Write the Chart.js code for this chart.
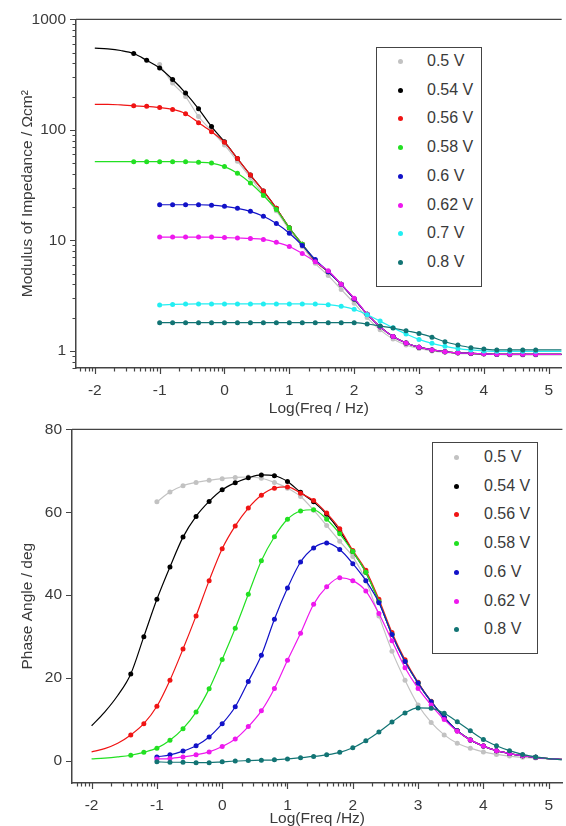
<!DOCTYPE html>
<html>
<head>
<meta charset="utf-8">
<script src="https://cdn.jsdelivr.net/npm/chart.js@4.4.0/dist/chart.umd.min.js"></script>
<style>
    body { margin: 0; background: #fff; width: 566px; height: 826px; overflow: hidden; position: relative;
           font-family: "Liberation Sans", Arial, sans-serif; }
    .quadro { position: absolute; left: 0; width: 566px; }
    .legenda { position: absolute; box-sizing: border-box; border: 1.5px solid #444; background: #fff; z-index: 5; }
    .item { position: absolute; left: 0; height: 18px; line-height: 18px; font-size: 16px; color: #3a3a3a; white-space: nowrap; }
    .ponto { position: absolute; top: 7px; width: 5px; height: 5px; border-radius: 50%; }
</style>
</head>
<body>
<div class="quadro" style="top:0;height:420px"><canvas id="graficoModulo"></canvas></div>
<div class="quadro" style="top:410px;height:416px"><canvas id="graficoFase"></canvas></div>
<div id="legendaModulo" class="legenda" style="left:376px;top:47px;width:106px;height:240px"></div>
<div id="legendaFase" class="legenda" style="left:432px;top:442px;width:106px;height:212px"></div>

<script>
// Frequências (log10 f / Hz) da grade
const logFreq = [-2.0, -1.8, -1.6, -1.4, -1.2, -1.0, -0.8, -0.6, -0.4, -0.2, 0.0, 0.2, 0.4, 0.6, 0.8, 1.0, 1.2, 1.4,
    1.6, 1.8, 2.0, 2.2, 2.4, 2.6, 2.8, 3.0, 3.2, 3.4, 3.6, 3.8, 4.0, 4.2, 4.4, 4.6, 4.8, 5.0, 5.2];
// faixa onde há pontos medidos (fora dela só a curva ajustada)
const primeiraMedida = -1.45;
const ultimaMedida = 4.85;

const ticksX = [-2, -1, 0, 1, 2, 3, 4, 5];
const ticksModulo = [1, 10, 100, 1000];
const ticksFase = [0, 20, 40, 60, 80];

const rotulos = ['0.5 V', '0.54 V', '0.56 V', '0.58 V', '0.6 V', '0.62 V', '0.7 V', '0.8 V'];
const cores = ['#c2c2c2', '#000000', '#f01414', '#22e022', '#1212c8', '#ee18ee', '#22eef2', '#127474'];

// Módulo da impedância / Ωcm²
const mod050 = [null, null, null, null, null, 390, 265, 200, 132, 98, 73, 52, 37, 26, 18.5, 12.5, 8.8, 6.2,
    4.8, 3.6, 2.7, 2.0, 1.55, 1.28, 1.13, 1.05, 1.0, 0.97, 0.95, 0.94, 0.93, 0.93, 0.92, 0.92, 0.92, 0.92, 0.92];
const mod054 = [548, 540, 522, 490, 425, 362, 285, 215, 155, 107, 78, 55, 39, 28, 19.5, 13, 9.2, 6.5,
    5.2, 4.0, 2.95, 2.15, 1.65, 1.35, 1.18, 1.08, 1.02, 0.98, 0.96, 0.95, 0.94, 0.93, 0.93, 0.93, 0.93, 0.93, 0.93];
const mod056 = [170, 170, 168, 165, 163, 159, 153, 140, 116, 96, 77, 55, 39, 28, 19.5, 13, 9.2, 6.5,
    5.2, 4.0, 2.95, 2.15, 1.65, 1.35, 1.18, 1.08, 1.02, 0.98, 0.96, 0.95, 0.94, 0.93, 0.93, 0.93, 0.93, 0.93, 0.93];
const mod058 = [51.5, 51.5, 51.5, 51.5, 51.5, 51.5, 51.5, 51.4, 51, 50, 46.5, 40.5, 33, 25.5, 19, 13, 9.2, 6.6,
    5.2, 4.0, 2.95, 2.15, 1.65, 1.35, 1.18, 1.08, 1.02, 0.98, 0.96, 0.95, 0.94, 0.93, 0.93, 0.93, 0.93, 0.93, 0.93];
const mod060 = [null, null, null, null, null, 21, 21, 21, 21, 20.8, 20.3, 19.5, 18.3, 16.5, 14.2, 11.6, 9.0, 6.7,
    5.2, 4.0, 2.95, 2.15, 1.65, 1.35, 1.18, 1.08, 1.02, 0.98, 0.96, 0.95, 0.94, 0.93, 0.93, 0.93, 0.93, 0.93, 0.93];
const mod062 = [null, null, null, null, null, 10.7, 10.7, 10.7, 10.7, 10.7, 10.6, 10.5, 10.4, 10.2, 9.6, 8.8, 7.6, 6.4,
    5.3, 4.0, 3.0, 2.15, 1.65, 1.35, 1.18, 1.08, 1.02, 0.98, 0.96, 0.95, 0.94, 0.93, 0.93, 0.93, 0.93, 0.93, 0.93];
const mod070 = [null, null, null, null, null, 2.6, 2.63, 2.65, 2.66, 2.66, 2.66, 2.66, 2.66, 2.66, 2.66, 2.66, 2.66, 2.65,
    2.62, 2.53, 2.38, 2.12, 1.86, 1.62, 1.42, 1.27, 1.17, 1.1, 1.05, 1.02, 1.0, 0.99, 0.99, 0.99, 0.99, 0.99, 0.99];
const mod080 = [null, null, null, null, null, 1.8, 1.8, 1.8, 1.8, 1.8, 1.8, 1.8, 1.8, 1.8, 1.8, 1.8, 1.8, 1.8,
    1.8, 1.8, 1.8, 1.75, 1.68, 1.61, 1.52, 1.44, 1.33, 1.21, 1.13, 1.07, 1.04, 1.02, 1.02, 1.02, 1.02, 1.02, 1.02];

// Ângulo de fase / graus
const fase050 = [null, null, null, null, null, 62.5, 64.9, 66.4, 67.2, 67.7, 68.1, 68.4, 68.5, 68.2, 67.2, 65.8, 63.8, 60.5,
    56.8, 53, 49.3, 43.5, 35, 26.5, 19.5, 13.5, 9.3, 6.3, 4.3, 3.1, 2.2, 1.6, 1.2, 0.9, 0.7, 0.5, 0.35];
const fase054 = [8.5, 11.8, 15.8, 21, 30, 39, 46.8, 54, 59, 62.6, 65.4, 67.1, 68.3, 69, 68.8, 67.4, 64.8, 62.5,
    59.5, 55.5, 50.5, 45.5, 38.5, 30.5, 24, 18.8, 14.3, 10.5, 7.3, 5.1, 3.6, 2.5, 1.8, 1.3, 0.9, 0.6, 0.4];
const fase056 = [2.2, 3.0, 4.3, 6.3, 9.0, 13.2, 19.5, 27, 35, 43.5, 51.2, 56.7, 61, 64.1, 65.8, 66.1, 64.6, 62.8,
    59.8, 56, 50.8, 46, 39, 31, 24.4, 19, 14.4, 10.5, 7.3, 5.1, 3.6, 2.5, 1.8, 1.3, 0.9, 0.6, 0.4];
const fase058 = [0.5, 0.7, 1.0, 1.4, 2.1, 3.1, 5.0, 7.8, 11.8, 17.4, 24.5, 32, 40.2, 48.3, 54.1, 58.3, 60.3, 60.6,
    58.3, 54.8, 50.5, 45.5, 38.5, 30.5, 24, 18.8, 14.3, 10.5, 7.3, 5.1, 3.6, 2.5, 1.8, 1.3, 0.9, 0.6, 0.4];
const fase060 = [null, null, null, null, null, 1.0, 1.5, 2.4, 3.7, 5.8, 9.0, 13.1, 19.2, 25.5, 34.2, 41.7, 48, 51.4,
    52.6, 51, 47.6, 43.5, 38.2, 30.5, 24, 18.8, 14.3, 10.5, 7.3, 5.1, 3.6, 2.5, 1.8, 1.3, 0.9, 0.6, 0.4];
const fase062 = [null, null, null, null, null, 0.5, 0.6, 1.0, 1.5, 2.2, 3.5, 5.3, 8.3, 12.1, 17.5, 24.3, 30.8, 37.8,
    42, 44.2, 43.5, 41, 35.6, 29, 22.5, 17.5, 13.5, 10, 7.2, 5.1, 3.6, 2.5, 1.8, 1.3, 0.9, 0.6, 0.4];
const fase080 = [null, null, null, null, null, -0.2, -0.3, -0.3, -0.4, -0.4, -0.2, 0, 0.1, 0.2, 0.3, 0.5, 0.8, 1.1,
    1.5, 2.1, 3.2, 4.9, 7.0, 9.4, 11.6, 12.8, 12.7, 11.5, 9.5, 7.3, 5.2, 3.7, 2.5, 1.6, 1.0, 0.6, 0.3];

const seriesModulo = [mod050, mod054, mod056, mod058, mod060, mod062, mod070, mod080];
const seriesFase = [fase050, fase054, fase056, fase058, fase060, fase062, null, fase080]; // sem 0.7 V na fase

Chart.defaults.font.family = '"Liberation Sans", Arial, sans-serif';
Chart.defaults.color = '#3a3a3a';

// Monta os datasets (curva ajustada + pontos medidos)
function montarDatasets(series) {
    const lista = [];
    series.forEach(function (valores, i) {
        if (!valores) return;
        lista.push({
            label: rotulos[i],
            data: logFreq.map((x, j) => ({ x: x, y: valores[j] })),
            borderColor: cores[i],
            backgroundColor: cores[i],
            pointBackgroundColor: cores[i],
            pointBorderWidth: 0,
            pointRadius: function (ctx) {
                const p = ctx.raw;
                if (!p || p.y === null) return 0;
                return (p.x >= primeiraMedida && p.x <= ultimaMedida) ? 2.5 : 0;
            },
            borderWidth: 1.2,
            cubicInterpolationMode: 'monotone',
            order: series.length - i
        });
    });
    return lista;
}

// Marcas dos eixos (maiores e menores, escala log no X) e linha superior do quadro
const marcasEixos = {
    id: 'marcasEixos',
    afterDraw(chart, args, opts) {
        const { ctx, chartArea: a, scales: { x, y } } = chart;
        ctx.save();
        ctx.strokeStyle = '#444';
        ctx.lineWidth = 1.2;
        ctx.beginPath();
        ctx.moveTo(a.left, a.top);
        ctx.lineTo(a.right, a.top);
        for (let k = -3; k <= 5; k++) {
            for (let m = 1; m <= 9; m++) {
                const v = k + Math.log10(m);
                if (v < x.min || v > x.max) continue;
                const px = Math.round(x.getPixelForValue(v)) + 0.5;
                ctx.moveTo(px, a.bottom);
                ctx.lineTo(px, a.bottom + (m === 1 ? 6 : 3.5));
            }
        }
        if (opts.log) {
            for (let k = -1; k <= 3; k++) {
                for (let m = 1; m <= 9; m++) {
                    const v = m * Math.pow(10, k);
                    if (v < y.min || v > y.max) continue;
                    const py = Math.round(y.getPixelForValue(v)) + 0.5;
                    ctx.moveTo(a.left, py);
                    ctx.lineTo(a.left - (m === 1 ? 6 : 3.5), py);
                }
            }
        } else {
            ticksFase.forEach(function (v) {
                const py = Math.round(y.getPixelForValue(v)) + 0.5;
                ctx.moveTo(a.left, py);
                ctx.lineTo(a.left - 6, py);
            });
        }
        ctx.stroke();
        ctx.restore();
    }
};

function eixoX(min, max, titulo, altura, padTitulo) {
    return {
        type: 'linear', min: min, max: max,
        afterBuildTicks: s => { s.ticks = ticksX.map(v => ({ value: v })); },
        afterFit: s => { s.height = altura; },
        grid: { display: false, drawTicks: false },
        border: { display: true, color: '#444', width: 1.5 },
        ticks: { padding: 13, font: { size: 15.5 }, maxRotation: 0, autoSkip: false, callback: v => String(v) },
        title: { display: true, text: titulo, font: { size: 15.5, lineHeight: 1 }, padding: { top: 0, bottom: padTitulo } }
    };
}

function eixoY(tipo, min, max, ticks, titulo, largura) {
    return {
        type: tipo, min: min, max: max,
        afterBuildTicks: s => { s.ticks = ticks.map(v => ({ value: v })); },
        afterFit: s => { s.width = largura; },
        grid: { display: false, drawTicks: false },
        border: { display: true, color: '#444', width: 1.5 },
        ticks: { padding: 10, font: { size: 15.5 }, autoSkip: false, callback: v => String(v) },
        title: { display: true, text: titulo, font: { size: 15.5, lineHeight: 1 }, padding: { top: 20, bottom: 0 } }
    };
}

const graficoModulo = new Chart(document.getElementById('graficoModulo'), {
    type: 'line',
    data: { datasets: montarDatasets(seriesModulo) },
    options: {
        responsive: true, maintainAspectRatio: false, animation: false,
        layout: { padding: { top: 19, right: 0, bottom: 0, left: 0 } },
        plugins: { legend: { display: false }, tooltip: { enabled: false }, marcasEixos: { log: true } },
        scales: {
            x: eixoX(-2.29, 5.2, 'Log(Freq / Hz)', 52, 4),
            y: eixoY('logarithmic', 0.702, 1000, ticksModulo, 'Modulus of Impedance / Ωcm²', 76)
        }
    },
    plugins: [marcasEixos]
});

const graficoFase = new Chart(document.getElementById('graficoFase'), {
    type: 'line',
    data: { datasets: montarDatasets(seriesFase) },
    options: {
        responsive: true, maintainAspectRatio: false, animation: false,
        layout: { padding: { top: 19, right: 0, bottom: 0, left: 0 } },
        plugins: { legend: { display: false }, tooltip: { enabled: false }, marcasEixos: { log: false } },
        scales: {
            x: eixoX(-2.30, 5.21, 'Log(Freq /Hz)', 43, 0),
            y: eixoY('linear', -5.3, 80, ticksFase, 'Phase Angle / deg', 72)
        }
    },
    plugins: [marcasEixos]
});

// Legendas em caixa, montadas a partir das séries
function montarLegenda(id, series, topo, xPonto, xTexto) {
    const caixa = document.getElementById(id);
    let n = 0;
    series.forEach(function (valores, i) {
        if (!valores) return;
        const item = document.createElement('div');
        item.className = 'item';
        item.style.top = (topo + n * 28.7 - 9) + 'px';
        item.innerHTML = '<span class="ponto" style="left:' + xPonto + 'px;background:' + cores[i] + '"></span>' +
            '<span style="position:absolute;left:' + xTexto + 'px">' + rotulos[i] + '</span>';
        caixa.appendChild(item);
        n++;
    });
}
montarLegenda('legendaModulo', seriesModulo, 13, 21, 50);
montarLegenda('legendaFase', seriesFase, 14, 21, 51);
</script>
</body>
</html>
